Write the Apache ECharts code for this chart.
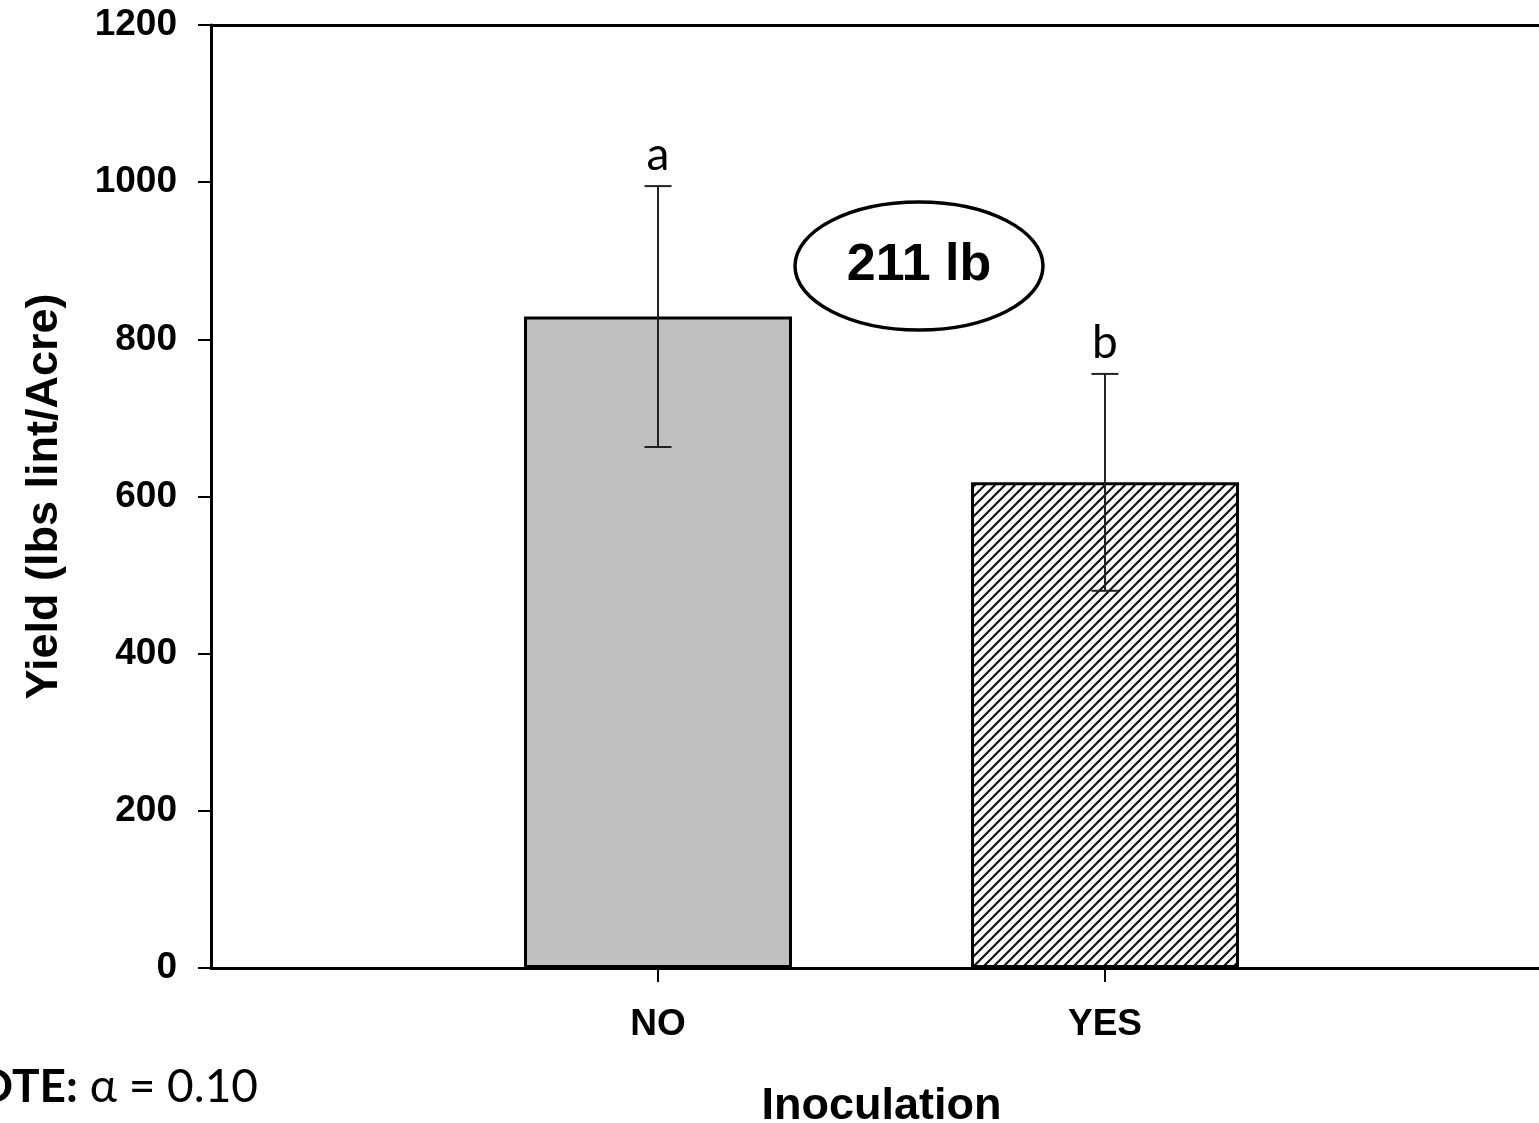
<!DOCTYPE html>
<html>
<head>
<meta charset="utf-8">
<script src="https://cdn.jsdelivr.net/npm/echarts@6/dist/echarts.min.js"></script>
<style>
html,body{margin:0;padding:0;background:#fff;}
#chart{width:1539px;height:1123px;}
</style>
</head>
<body>
<div id="chart"></div>
<script>
const categories = ['NO', 'YES'];
const yieldMeans = [829, 618];
const yieldErrors = [166, 138];
const sigLetters = ['a', 'b'];
const yMin = 0, yMax = 1200, yStep = 200;
const diffLabel = '211 lb';
const noteBold = 'NOTE:';
const noteRest = ' \u03b1 = 0.10';

// axis with empty slots at both ends so the two bars sit at 1/3 and 2/3 of the frame
const axisCats = [''].concat(categories, ['']);
const barData = ['-'].concat(yieldMeans, ['-']);

// hatch pattern for the inoculated bar
const hatch = document.createElement('canvas');
hatch.width = 10; hatch.height = 10;
const hc = hatch.getContext('2d');
hc.fillStyle = '#fff'; hc.fillRect(0, 0, 10, 10);
hc.strokeStyle = '#111'; hc.lineWidth = 2.2;
hc.beginPath();
hc.moveTo(-5, 5); hc.lineTo(5, -5);
hc.moveTo(0, 10); hc.lineTo(10, 0);
hc.moveTo(5, 15); hc.lineTo(15, 5);
hc.stroke();

const barItems = barData.map((v, i) => {
  if (v === '-') return '-';
  const idx = i - 1;
  return {
    value: v,
    itemStyle: idx === 0
      ? { color: '#c0c0c0', borderColor: '#000', borderWidth: 3 }
      : { color: { image: hatch, repeat: 'repeat' }, borderColor: '#000', borderWidth: 3 }
  };
});

const errData = categories.map((c, i) => [i + 1, yieldMeans[i], yieldErrors[i], sigLetters[i]]);

const chart = echarts.init(document.getElementById('chart'), null, { renderer: 'canvas' });
chart.setOption({
  backgroundColor: '#fff',
  animation: false,
  grid: { left: 211, right: -13, top: 25, bottom: 155, outerBoundsMode: 'none', containLabel: false },
  xAxis: [{
    type: 'category',
    data: axisCats,
    boundaryGap: false,
    axisLine: { lineStyle: { color: '#000', width: 3 } },
    axisTick: { show: true, length: 14, inside: false, lineStyle: { color: '#000', width: 2 },
      interval: (i, v) => v !== '' },
    axisLabel: { interval: (i, v) => v !== '', margin: 38, color: '#000',
      fontFamily: 'Liberation Sans', fontWeight: 'bold', fontSize: 37 },
    name: 'Inoculation',
    nameLocation: 'middle',
    nameGap: 116,
    nameTextStyle: { color: '#000', fontFamily: 'Liberation Sans', fontWeight: 'bold', fontSize: 45 },
    splitLine: { show: false }
  }, {
    type: 'category',
    position: 'top',
    data: axisCats,
    boundaryGap: false,
    axisLine: { lineStyle: { color: '#000', width: 3 } },
    axisTick: { show: false },
    axisLabel: { show: false },
    splitLine: { show: false }
  }],
  yAxis: {
    type: 'value',
    min: yMin, max: yMax, interval: yStep,
    axisLine: { show: true, lineStyle: { color: '#000', width: 3 } },
    axisTick: { show: true, length: 13, lineStyle: { color: '#000', width: 2 } },
    axisLabel: { margin: 34, color: '#000', fontFamily: 'Liberation Sans', fontWeight: 'bold', fontSize: 37,
      formatter: v => String(v) },
    splitLine: { show: false },
    name: 'Yield (lbs lint/Acre)',
    nameLocation: 'middle',
    nameGap: 144,
    nameTextStyle: { color: '#000', fontFamily: 'Liberation Sans', fontWeight: 'bold', fontSize: 45 }
  },
  series: [{
    type: 'bar',
    data: barItems,
    barWidth: 268,
    z: 2
  }, {
    type: 'custom',
    data: errData,
    z: 5,
    renderItem: function (params, api) {
      const x = api.value(0), m = api.value(1), e = api.value(2);
      const top = api.coord([x, m + e]);
      const bot = api.coord([x, m - e]);
      const cap = 13.5;
      const st = { stroke: '#222', lineWidth: 2 };
      return {
        type: 'group',
        children: [
          { type: 'line', shape: { x1: top[0], y1: top[1], x2: bot[0], y2: bot[1] }, style: st },
          { type: 'line', shape: { x1: top[0] - cap, y1: top[1], x2: top[0] + cap, y2: top[1] }, style: st },
          { type: 'line', shape: { x1: bot[0] - cap, y1: bot[1], x2: bot[0] + cap, y2: bot[1] }, style: st },
          { type: 'text', style: { text: sigLetters[params.dataIndex], x: top[0], y: top[1] - 8,
              textAlign: 'center', textVerticalAlign: 'bottom', fill: '#000',
              font: '46px Lato' } }
        ]
      };
    }
  }],
  graphic: [{
    type: 'ellipse',
    shape: { cx: 919, cy: 266, rx: 124, ry: 64 },
    style: { fill: '#fff', stroke: '#000', lineWidth: 3.5 },
    z: 10
  }, {
    type: 'text',
    x: 919, y: 266,
    style: { text: diffLabel, textAlign: 'center', textVerticalAlign: 'middle', fill: '#000',
      font: 'bold 52px "Liberation Sans"' },
    z: 11
  }, {
    type: 'text',
    x: 258, y: 1087,
    style: {
      text: '{b|' + noteBold + '}{r|' + noteRest + '}',
      textAlign: 'right', textVerticalAlign: 'middle',
      rich: {
        b: { fontFamily: 'Lato', fontWeight: 'bold', fontSize: 46, fill: '#000' },
        r: { fontFamily: 'Lato', fontSize: 46, fill: '#000' }
      }
    },
    z: 11
  }]
});
</script>
</body>
</html>
